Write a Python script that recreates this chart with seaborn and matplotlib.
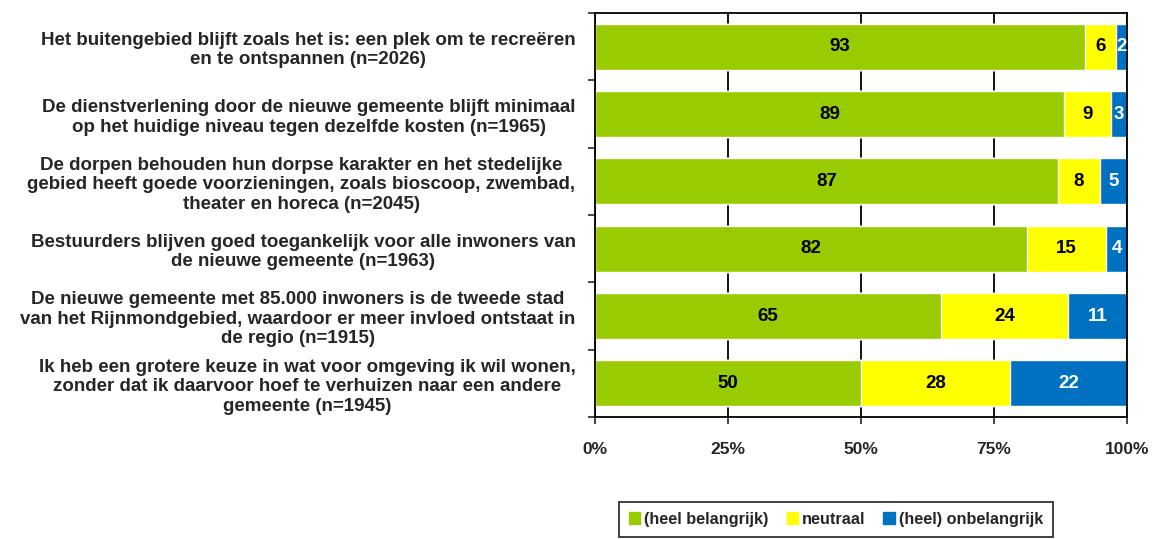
import numpy as np
import pandas as pd
import seaborn as sns
import matplotlib.pyplot as plt
from matplotlib.patches import Patch

stellingen = [
    "Het buitengebied blijft zoals het is: een plek om te recreëren\nen te ontspannen (n=2026)",
    "De dienstverlening door de nieuwe gemeente blijft minimaal\nop het huidige niveau tegen dezelfde kosten (n=1965)",
    "De dorpen behouden hun dorpse karakter en het stedelijke\ngebied heeft goede voorzieningen, zoals bioscoop, zwembad,\ntheater en horeca (n=2045)",
    "Bestuurders blijven goed toegankelijk voor alle inwoners van\nde nieuwe gemeente (n=1963)",
    "De nieuwe gemeente met 85.000 inwoners is de tweede stad\nvan het Rijnmondgebied, waardoor er meer invloed ontstaat in\nde regio (n=1915)",
    "Ik heb een grotere keuze in wat voor omgeving ik wil wonen,\nzonder dat ik daarvoor hoef te verhuizen naar een andere\ngemeente (n=1945)",
]
belangrijk = [93, 89, 87, 82, 65, 50]
neutraal = [6, 9, 8, 15, 24, 28]
onbelangrijk = [2, 3, 5, 4, 11, 22]

reeksen = ["(heel belangrijk)", "neutraal", "(heel) onbelangrijk"]
kleuren = ["#99CC00", "#FFFF00", "#0070C0"]
tekstkleur = ["black", "black", "white"]

df = pd.DataFrame({"stelling": stellingen, "b": belangrijk, "n": neutraal, "o": onbelangrijk})
totaal = df[["b", "n", "o"]].sum(axis=1)
df["c1"] = df["b"] / totaal
df["c2"] = (df["b"] + df["n"]) / totaal
df["c3"] = 1.0

sns.set_style("white")
plt.rcParams["font.family"] = ["Liberation Sans", "DejaVu Sans"]
plt.rcParams["font.weight"] = "bold"

fig = plt.figure(figsize=(11.57, 5.39), dpi=100)
ax = fig.add_axes([595 / 1157, 1 - 417 / 539, 532 / 1157, 404 / 539])

# gestapeld door cumulatieve balken over elkaar te tekenen
for kol, kleur in zip(["c3", "c2", "c1"], kleuren[::-1]):
    sns.barplot(data=df, x=kol, y="stelling", orient="h", color=kleur,
                width=0.68, saturation=1, ax=ax, zorder=2)

# waarden in de segmenten
for i, row in df.iterrows():
    starts = [0, row["c1"], row["c2"]]
    ends = [row["c1"], row["c2"], 1.0]
    for j, (s, e, v) in enumerate(zip(starts, ends, [row["b"], row["n"], row["o"]])):
        ax.text((s + e) / 2, i, str(v), ha="center", va="center",
                fontsize=13.5, fontweight="bold", color=tekstkleur[j], zorder=3)

ax.set_xlim(0, 1)
ax.set_ylim(len(df) - 0.5, -0.5)
ax.set_xticks([0, 0.25, 0.5, 0.75, 1.0])
ax.set_xticklabels(["0%", "25%", "50%", "75%", "100%"], fontsize=12.5, fontweight="bold")
ax.xaxis.grid(True, color="black", linewidth=1.3, zorder=0)
ax.set_axisbelow(True)
ax.set_xlabel("")
ax.set_ylabel("")

# tick-streepjes op de grenzen, labels in het midden
ax.set_yticks(np.arange(-0.5, len(df), 1))
ax.set_yticklabels([])
ax.set_yticks(np.arange(len(df)), minor=True)
ax.set_yticklabels(stellingen, minor=True, fontsize=13.5, fontweight="bold",
                   multialignment="center", linespacing=1.2)
ax.tick_params(axis="y", which="major", direction="out", length=5, width=1.2, left=True)
ax.tick_params(axis="y", which="minor", length=0, pad=14)
ax.tick_params(axis="x", direction="out", length=5, width=1.2, bottom=True, pad=13)

for sp in ax.spines.values():
    sp.set_color("black")
    sp.set_linewidth(1.3)
    sp.set_visible(True)

handles = [Patch(facecolor=k, edgecolor=k) for k in kleuren]
leg = fig.legend(handles, reeksen, loc="upper center", bbox_to_anchor=(836 / 1157, 1 - 502 / 539),
                 ncol=3, frameon=True, fancybox=False, handlelength=0.7,
                 handleheight=0.7, handletextpad=0.25, columnspacing=1.1,
                 borderpad=0.6, borderaxespad=0, prop={"weight": "bold", "size": 11.7})
leg.get_frame().set_edgecolor("black")
leg.get_frame().set_linewidth(1.3)

fig.savefig("out.png", dpi=100)
